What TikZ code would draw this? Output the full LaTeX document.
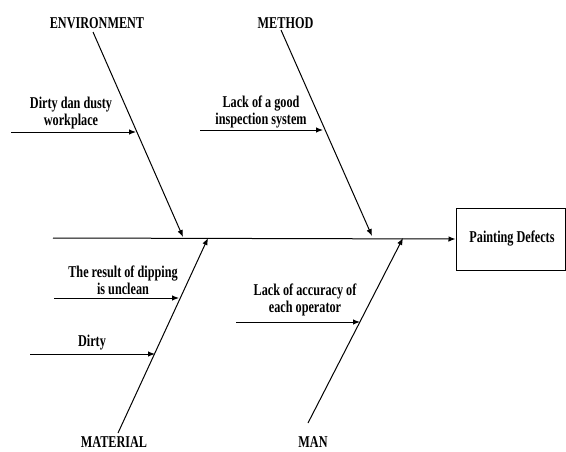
\documentclass[tikz,border=0pt]{standalone}
\usepackage{fontspec}
\setmainfont{Liberation Serif}[FakeStretch=0.74]
\usetikzlibrary{arrows.meta}
\begin{document}
\begin{tikzpicture}[x=1pt,y=-1pt,
  lbl/.style={font=\fontsize{16.5}{17}\selectfont\bfseries, align=center, inner sep=0pt},
  bone/.style={line width=1pt, -{Latex[length=7pt,width=5.5pt]}},
  twig/.style={line width=1pt, -{Latex[length=7pt,width=5.5pt]}}]
\useasboundingbox (0,0) rectangle (566,451);

% effect box
\node[draw, line width=1pt, minimum width=109pt, minimum height=62pt, inner sep=0pt]
  (box) at (510.5,239) {};
\node[lbl] (effect) at (512,239) {Painting Defects};

% spine
\coordinate (tail) at (53,238);
\draw[bone] (tail) -- (box.west);

% category labels
\node[lbl, anchor=base] (env) at (97,28) {ENVIRONMENT};
\node[lbl, anchor=base] (met) at (285.5,28) {METHOD};
\node[lbl, anchor=base] (mat) at (114,447) {MATERIAL};
\node[lbl, anchor=base] (man) at (313,447) {MAN};

% bone ends
\coordinate (envS) at (93,32);   \coordinate (envE) at (183,237);
\coordinate (metS) at (281,30);  \coordinate (metE) at (372,236);
\coordinate (matS) at (118,433); \coordinate (matE) at (208,238);
\coordinate (manS) at (308,423); \coordinate (manE) at (403,238);

\draw[bone] (envS) -- (envE);
\draw[bone] (metS) -- (metE);
\draw[bone] (matS) -- (matE);
\draw[bone] (manS) -- (manE);

% causes
\node[lbl] (c1) at (71,113) {Dirty dan dusty\\workplace};
\coordinate (c1a) at (11,132); \coordinate (c1b) at (136,132);
\draw[twig] (c1a) -- (c1b);

\node[lbl] (c2) at (261,112) {Lack of a good\\inspection system};
\coordinate (c2a) at (200,130); \coordinate (c2b) at (323,130);
\draw[twig] (c2a) -- (c2b);

\node[lbl] (c3) at (123,280) {The result of dipping\\is unclean};
\coordinate (c3a) at (54,298); \coordinate (c3b) at (179,298);
\draw[twig] (c3a) -- (c3b);

\node[lbl] (c4) at (92,343) {Dirty};
\coordinate (c4a) at (30,354); \coordinate (c4b) at (155,354);
\draw[twig] (c4a) -- (c4b);

\node[lbl] (c5) at (305,300) {Lack of accuracy of\\each operator};
\coordinate (c5a) at (236,322); \coordinate (c5b) at (360,322);
\draw[twig] (c5a) -- (c5b);
\end{tikzpicture}
\end{document}
